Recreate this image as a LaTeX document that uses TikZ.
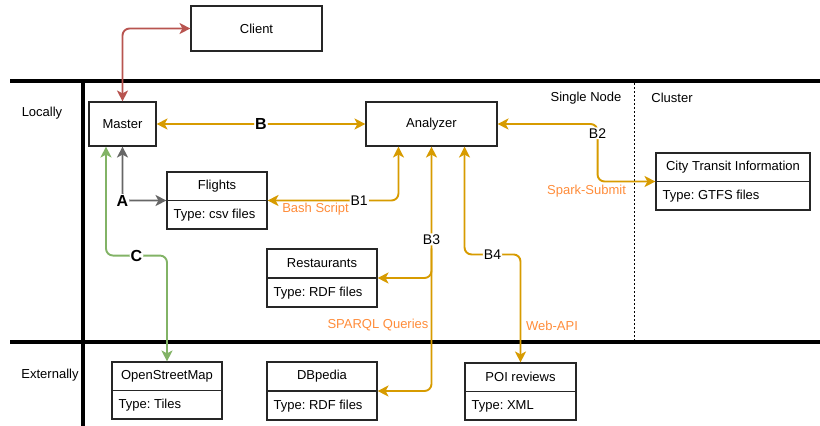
\documentclass[tikz,border=0pt]{standalone}
\usepackage{fontspec}
\setmainfont{Liberation Sans}
\frenchspacing
\usetikzlibrary{arrows.meta,calc}
\definecolor{gold}{HTML}{D79B00}
\definecolor{lblc}{HTML}{FF8C3A}
\definecolor{rd}{HTML}{B85450}
\definecolor{gr}{HTML}{82B366}
\definecolor{gy}{HTML}{666666}
\newcommand{\tbox}[6]{%
  \node[box, minimum width=#3, minimum height=#4] (#1) at (#2) {};
  \draw[boxline] (#1.west) -- (#1.east);
  \node[inner sep=0pt] at ($(#1.north)!0.5!(#1.center)$) {#5};
  \node[anchor=west, inner sep=0pt] at ($(#1.west)!0.5!(#1.south west)+(7,0)$) {#6};}
\begin{document}
\begin{tikzpicture}[x=1pt,y=-1pt,
  font=\fontsize{13}{15}\selectfont,
  box/.style={draw=black!85, line width=1.1pt, fill=white, inner sep=0pt},
  boxline/.style={draw=black!85, line width=1.1pt},
  tip/.tip={Stealth[length=11pt,width=11pt,inset=3pt]},
  conn/.style={line width=1.9pt, rounded corners=7pt, tip-tip},
  conn1/.style={line width=1.9pt, rounded corners=7pt, -tip},
  letter/.style={font=\fontsize{16}{16}\selectfont\bfseries, fill=white, inner sep=1pt, text=black},
  blabel/.style={font=\fontsize{14}{15}\selectfont, fill=white, inner sep=1pt, text=black},
  olabel/.style={text=lblc, inner sep=0pt},
  lane/.style={line width=3.8pt},
]
\useasboundingbox (0,0) rectangle (820,426);
% lanes
\draw[lane] (10,81) -- (820,81);
\draw[lane] (10,342) -- (820,342);
\draw[lane] (83,81) -- (83,426);
\draw[dash pattern=on 2pt off 2pt, line width=1pt] (634,83) -- (634,340);
\node (locally) at (42,113) {Locally};
\node (externally) at (50,375) {Externally};
\node (single) at (586,98) {Single Node};
\node (cluster) at (672,98) {Cluster};
% boxes
\node[box, minimum width=131pt, minimum height=45pt] (client) at (256.5,28.5) {Client};
\node[box, minimum width=67pt, minimum height=44pt] (master) at (122.5,124) {Master};
\node[box, minimum width=131pt, minimum height=44pt] (analyzer) at (431.5,124) {Analyzer};
\tbox{flights}{217,200.5}{100pt}{57pt}{Flights}{Type: csv files}
\tbox{city}{733,181.5}{154pt}{57pt}{City Transit Information}{Type: GTFS files}
\tbox{restaurants}{322,278}{110pt}{58pt}{Restaurants}{Type: RDF files}
\tbox{dbpedia}{322,391}{110pt}{58pt}{DBpedia}{Type: RDF files}
\tbox{poi}{520.5,391.5}{111pt}{57pt}{POI reviews}{Type: XML}
\tbox{osm}{167,390.5}{110pt}{57pt}{OpenStreetMap}{Type: Tiles}
% connectors
\draw[conn, rd] (master.north) |- (client.west);
\draw[conn, gy] (master.south) |- node[letter]{A} (flights.west);
\coordinate (gs) at ($(master.south)+(-16.5,0)$);
\draw[conn, gr] (gs) -- ($(gs)+(0,109)$) -| node[pos=0.25, letter]{C} (osm.north);
\draw[conn, gold] (master.east) -- node[letter]{B} (analyzer.west);
\coordinate (a1) at ($(analyzer.south west)!0.25!(analyzer.south east)$);
\coordinate (a4) at ($(analyzer.south west)!0.75!(analyzer.south east)$);
\draw[conn, gold] (flights.east) -| node[pos=0.35, blabel]{B1} (a1);
\node[olabel] (bash) at ($(flights.east)+(48,9)$) {Bash Script};
\coordinate (b2c) at ($(analyzer.east)+(100,0)$);
\draw[conn, gold] (analyzer.east) -- (b2c) |- node[pos=0.08, blabel]{B2} (city.west);
\node[olabel] (spark) at ($(b2c|-city.west)+(-11,10)$) {Spark-Submit};
\draw[conn, gold] (analyzer.south) |- node[pos=0.19, blabel]{B3} (dbpedia.east);
\draw[conn1, gold] (analyzer.south |- restaurants.north) |- (restaurants.east);
\node[olabel] (sparql) at (378,325) {SPARQL Queries};
\draw[conn, gold] (a4) |- node[pos=0.75, blabel]{B4} ($(poi.north)+(0,-108)$) -- (poi.north);
\node[olabel] (webapi) at (552,326) {Web-API};
\end{tikzpicture}
\end{document}
